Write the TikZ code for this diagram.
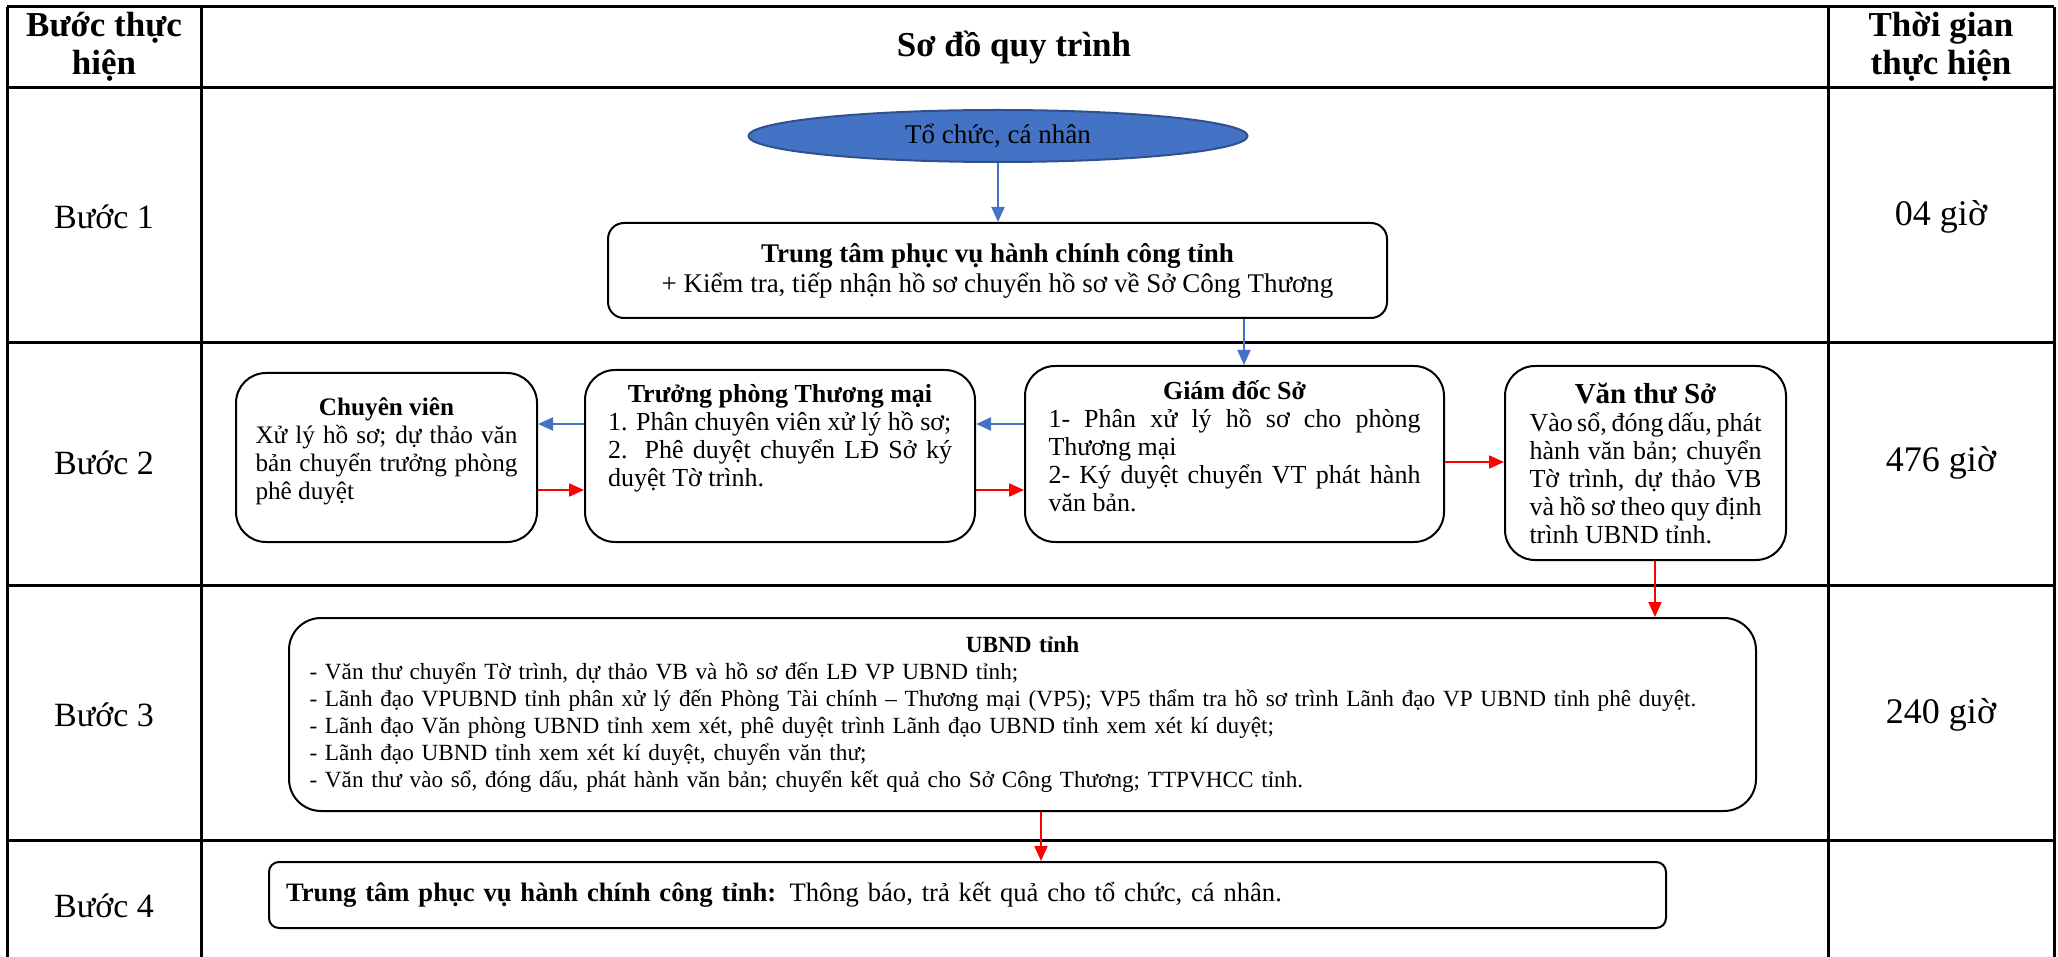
\documentclass[tikz,border=0pt]{standalone}
\usepackage{fontspec}
\setmainfont{Liberation Serif}
\usetikzlibrary{shapes.geometric,arrows.meta}

\definecolor{flowblue}{HTML}{4472C4}
\definecolor{flowedge}{HTML}{2F528F}

\tikzset{
  tablerule/.style={line width=1.5pt},
  box/.style={draw, line width=1pt, rounded corners=15pt, align=justify,
    inner xsep=0pt, font=\fontsize{13}{14}\selectfont},
  headtext/.style={font=\bfseries\fontsize{17.5}{19}\selectfont, align=center},
  steptext/.style={font=\fontsize{17}{20}\selectfont},
  timetext/.style={font=\fontsize{18}{20}\selectfont},
  bluearrow/.style={draw=flowblue, line width=1pt, -{Triangle[length=7.5pt,width=6.5pt]}},
  redarrow/.style={draw=red, line width=1pt, -{Triangle[length=7.5pt,width=6.5pt]}},
}

\begin{document}
\begin{tikzpicture}[x=0.5pt, y=-0.5pt]

    \useasboundingbox (0,0) rectangle (2058,957);

    % table
    \foreach \y in {7,88,343,585,840}
      \draw[tablerule] (7,\y) -- (2054,\y);
    \foreach \x in {7,201,1828,2054}
      \draw[tablerule] (\x,7) -- (\x,957);

    \node[headtext] (hstep) at (104,47) {Bước thực\\hiện};
    \node[headtext] (hflow) at (1014,48) {Sơ đồ quy trình};
    \node[headtext] (htime) at (1941,47) {Thời gian\\thực hiện};

    \node[steptext] (s1) at (104,217) {Bước 1};
    \node[steptext] (s2) at (104,463) {Bước 2};
    \node[steptext] (s3) at (104,715) {Bước 3};
    \node[steptext] (s4) at (104,906) {Bước 4};

    \node[timetext] (t1) at (1941,217) {04 giờ};
    \node[timetext] (t2) at (1941,463) {476 giờ};
    \node[timetext] (t3) at (1941,715) {240 giờ};

    % flow
    \node[ellipse, fill=flowblue, draw=flowedge, line width=1pt, inner sep=0pt,
      minimum width=249.5pt, minimum height=26pt,
      font=\fontsize{13.5}{15}\selectfont] (org) at (998,136) {Tổ chức, cá nhân};

    \node[box, align=center, rounded corners=8pt, minimum width=389.5pt,
      minimum height=47.5pt, font=\fontsize{13.5}{15}\selectfont] (ttpv) at (997.5,270.5)
      {\textbf{Trung tâm phục vụ hành chính công tỉnh}\\
       + Kiểm tra, tiếp nhận hồ sơ chuyển hồ sơ về Sở Công Thương};

    \node[box, minimum width=150.5pt, minimum height=84.5pt, text width=131pt,
      font=\fontsize{12.6}{14}\selectfont]
      (cv) at (386.5,457.5)
      {{\centering\textbf{Chuyên viên}\par}Xử lý hồ sơ; dự thảo văn bản chuyển trưởng phòng phê duyệt\rule[-9pt]{0pt}{0pt}};

    \node[box, minimum width=195pt, minimum height=86pt, text width=172pt]
      (tp) at (780,456)
      {{\centering\textbf{Trưởng phòng Thương mại}\par}1. Phân chuyên viên xử lý hồ sơ;\\
       2. Phê duyệt chuyển LĐ Sở ký duyệt Tờ trình.\rule[-21pt]{0pt}{0pt}};

    \node[box, minimum width=209.5pt, minimum height=88pt, text width=186pt]
      (gd) at (1234.5,454)
      {{\centering\textbf{Giám đốc Sở}\par}1- Phân xử lý hồ sơ cho phòng Thương mại\\
       2- Ký duyệt chuyển VT phát hành văn bản.\rule[-8pt]{0pt}{0pt}};

    \node[box, minimum width=140.5pt, minimum height=97pt, text width=116pt]
      (vt) at (1645.5,463)
      {{\centering\bfseries\fontsize{14.5}{15}\selectfont Văn thư Sở\par}Vào sổ, đóng dấu, phát hành văn bản; chuyển Tờ trình, dự thảo VB và hồ sơ theo quy định trình UBND tỉnh.};

    \node[box, align=left, rounded corners=16pt, minimum width=733.5pt,
      minimum height=96.5pt, text width=713pt, font=\fontsize{11.6}{13.5}\selectfont]
      (ubnd) at (1022.5,714.5)
      {{\centering\textbf{UBND tỉnh}\par}
       - Văn thư chuyển Tờ trình, dự thảo VB và hồ sơ đến LĐ VP UBND tỉnh;\\
       - Lãnh đạo VPUBND tỉnh phân xử lý đến Phòng Tài chính – Thương mại (VP5); VP5 thẩm tra hồ sơ trình Lãnh đạo VP UBND tỉnh phê duyệt.\\
       - Lãnh đạo Văn phòng UBND tỉnh xem xét, phê duyệt trình Lãnh đạo UBND tỉnh xem xét kí duyệt;\\
       - Lãnh đạo UBND tỉnh xem xét kí duyệt, chuyển văn thư;\\
       - Văn thư vào sổ, đóng dấu, phát hành văn bản; chuyển kết quả cho Sở Công Thương; TTPVHCC tỉnh.};

    \node[box, align=left, rounded corners=5pt, minimum width=698.5pt,
      minimum height=33pt, text width=681.5pt, font=\fontsize{13.3}{14}\selectfont]
      (b4) at (967.5,895)
      {\textbf{Trung tâm phục vụ hành chính công tỉnh:} Thông báo, trả kết quả cho tổ chức, cá nhân.};

    % arrow rows and columns
    \coordinate (BL) at (0,424);
    \coordinate (RL) at (0,490);
    \coordinate (RV) at (0,462);
    \coordinate (DG) at (1244,0);
    \coordinate (DU) at (1655,0);
    \coordinate (DB) at (1041,0);

    \draw[bluearrow] (org.south) -- (org.south |- ttpv.north);
    \draw[bluearrow] (ttpv.south -| DG) -- (gd.north -| DG);
    \draw[bluearrow] (gd.west |- BL) -- (tp.east |- BL);
    \draw[bluearrow] (tp.west |- BL) -- (cv.east |- BL);

    \draw[redarrow] (cv.east |- RL) -- (tp.west |- RL);
    \draw[redarrow] (tp.east |- RL) -- (gd.west |- RL);
    \draw[redarrow] (gd.east |- RV) -- (vt.west |- RV);
    \draw[redarrow] (vt.south -| DU) -- (ubnd.north -| DU);
    \draw[redarrow] (ubnd.south -| DB) -- (b4.north -| DB);

  \end{tikzpicture}
\end{document}
